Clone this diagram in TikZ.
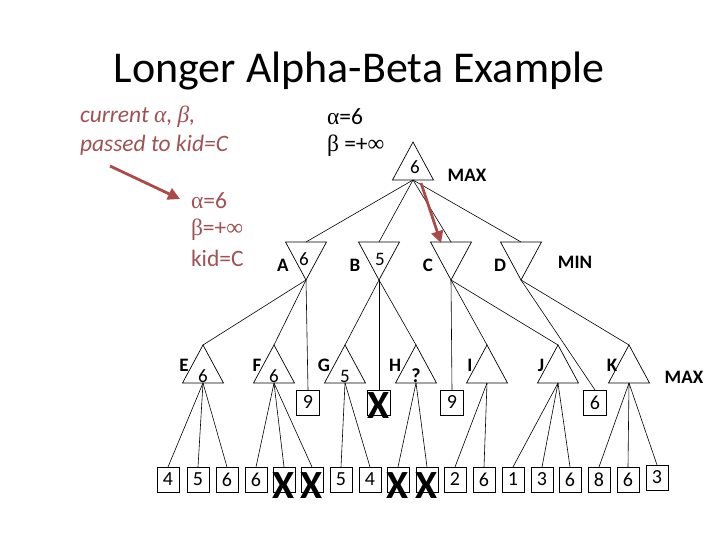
\documentclass[tikz,border=0pt]{standalone}
\usepackage{fontspec}
\setmainfont{Carlito}
\newfontfamily\symf{Liberation Serif}
\usetikzlibrary{arrows.meta}
\definecolor{annot}{RGB}{160,82,84}
\definecolor{arr}{RGB}{172,74,74}
\begin{document}
\begin{tikzpicture}[x=1pt,y=-1pt,
  every node/.style={inner sep=0pt, outer sep=0pt},
  trinode/.style={minimum width=41pt, minimum height=38pt},
  tri/.style={line width=0.7pt, line join=miter},
  leaf/.style={draw, line width=0.7pt, minimum width=22pt, minimum height=25pt, font=\fontsize{20}{20}\selectfont},
  ebox/.style={draw, line width=0.7pt, minimum width=23pt, minimum height=25pt, font=\fontsize{20}{20}\selectfont},
  conn/.style={line width=0.6pt},
  lbl/.style={font=\bfseries\fontsize{19}{19}\selectfont},
  num/.style={font=\fontsize{19}{19}\selectfont},
  xmark/.style={font=\bfseries\fontsize{40}{40}\selectfont},
  note/.style={font=\fontsize{23.5}{26}\selectfont, anchor=west},
  redarrow/.style={draw=arr, line width=2.8pt, -{Triangle[length=12pt,width=12pt]}}
]
\useasboundingbox (0,0) rectangle (720,540);

% title
\node[font=\fontsize{44}{44}\selectfont, anchor=base] (title) at (359,83) {Longer Alpha-Beta Example};

% annotations
\node[note, text=annot, font=\itshape\fontsize{23.5}{26}\selectfont] (cur) at (80,117) {current {\symf\itshape α}, {\symf\itshape β},};
\node[note, text=annot, font=\itshape\fontsize{23.5}{26}\selectfont] (pass) at (80,145) {passed to kid=C};
\node[note] (ra) at (327,117) {{\symf α}=6};
\node[note] (rb) at (327,146) {{\symf β} =+{\symf ∞}};
\node[note, text=annot] (ka) at (191,201) {{\symf α}=6};
\node[note, text=annot] (kb) at (191,230) {{\symf β}=+{\symf ∞}};
\node[note, text=annot] (kc) at (191,258) {kid=C};

% triangle placeholders
\node[trinode] (R) at (413,161) {};
\node[trinode] (A) at (306,261) {};
\node[trinode] (B) at (379,261) {};
\node[trinode] (C) at (451,261) {};
\node[trinode] (D) at (521,261) {};
\foreach \n/\x in {E/203,F/274,G/345,H/416,I/487,J/558,K/629}
  \node[trinode] (\n) at (\x,364) {};

% draw triangles
\foreach \n in {R,E,F,G,H,I,J,K}
  \draw[tri] (\n.north) -- (\n.south west) -- (\n.south east) -- cycle;
\foreach \n in {A,B,C,D}
  \draw[tri] (\n.north west) -- (\n.north east) -- (\n.south) -- cycle;

% values and labels in triangles
\node[num] (vR) at (415,167) {6};
\node[lbl] (maxtop) at (467,175) {MAX};
\node[num] (vA) at (304,259) {6};
\node[num] (vB) at (380,259) {5};
\node[lbl] (lA) at (283,265) {A};
\node[lbl] (lB) at (355,265) {B};
\node[lbl] (lC) at (428,265) {C};
\node[lbl] (lD) at (500,265) {D};
\node[lbl] (minl) at (575,262) {MIN};
\node[num] (vE) at (203,376) {6};
\node[num] (vF) at (274,376) {6};
\node[num] (vG) at (345,376) {5};
\node[lbl, font=\bfseries\fontsize{20}{20}\selectfont] (vH) at (416,376) {?};
\node[lbl] (lE) at (184,365) {E};
\node[lbl] (lF) at (257,365) {F};
\node[lbl] (lG) at (324,365) {G};
\node[lbl] (lH) at (395,365) {H};
\node[lbl] (lI) at (470,365) {I};
\node[lbl] (lJ) at (541,365) {J};
\node[lbl] (lK) at (612,365) {K};
\node[lbl] (maxb) at (684,377) {MAX};

% level-3 boxes
\node[ebox] (b9a) at (308,402.5) {9};
\node[ebox] (bxa) at (379,402.5) {};
\node[ebox] (b9b) at (452,402.5) {9};
\node[ebox] (b6) at (595,402.5) {6};
\node[xmark] (xa) at (379,406) {X};

% leaves
\foreach \i/\x/\v in {1/168/4,2/198/5,3/227/6,4/256/6,5/284/,6/312/,7/341/5,8/370/4,9/398/,10/427/,11/455/2,12/484/6,13/513/1,14/542/3,15/570/6,16/599/8,17/628/6}
  \node[leaf] (L\i) at (\x,479.5) {\v};
\node[leaf] (L18) at (657,477.5) {3};
\foreach \i/\x in {5/284,6/312,9/398,10/427}
  \node[xmark] (X\i) at (\x,486) {X};

% connectors
\foreach \c in {A,B,C,D} \draw[conn] (R.south) -- (\c.north);
\foreach \c in {E,F,b9a} \draw[conn] (A.south) -- (\c.north);
\foreach \c in {G,bxa,H} \draw[conn] (B.south) -- (\c.north);
\foreach \c in {b9b,I,J} \draw[conn] (C.south) -- (\c.north);
\foreach \c in {b6,K} \draw[conn] (D.south) -- (\c.north);
\foreach \c in {1,2,3} \draw[conn] (E.south) -- (L\c.north);
\foreach \c in {4,5,6} \draw[conn] (F.south) -- (L\c.north);
\foreach \c in {7,8} \draw[conn] (G.south) -- (L\c.north);
\foreach \c in {9,10} \draw[conn] (H.south) -- (L\c.north);
\foreach \c in {11,12} \draw[conn] (I.south) -- (L\c.north);
\foreach \c in {13,14,15} \draw[conn] (J.south) -- (L\c.north);
\foreach \c in {16,17,18} \draw[conn] (K.south) -- (L\c.north);

% red arrows
\coordinate (a1s) at (110,166);
\coordinate (a1e) at (180,199);
\coordinate (a2s) at (421,183);
\coordinate (a2e) at (441,243);
\draw[redarrow] (a1s) -- (a1e);
\draw[redarrow] (a2s) -- (a2e);
\end{tikzpicture}
\end{document}
